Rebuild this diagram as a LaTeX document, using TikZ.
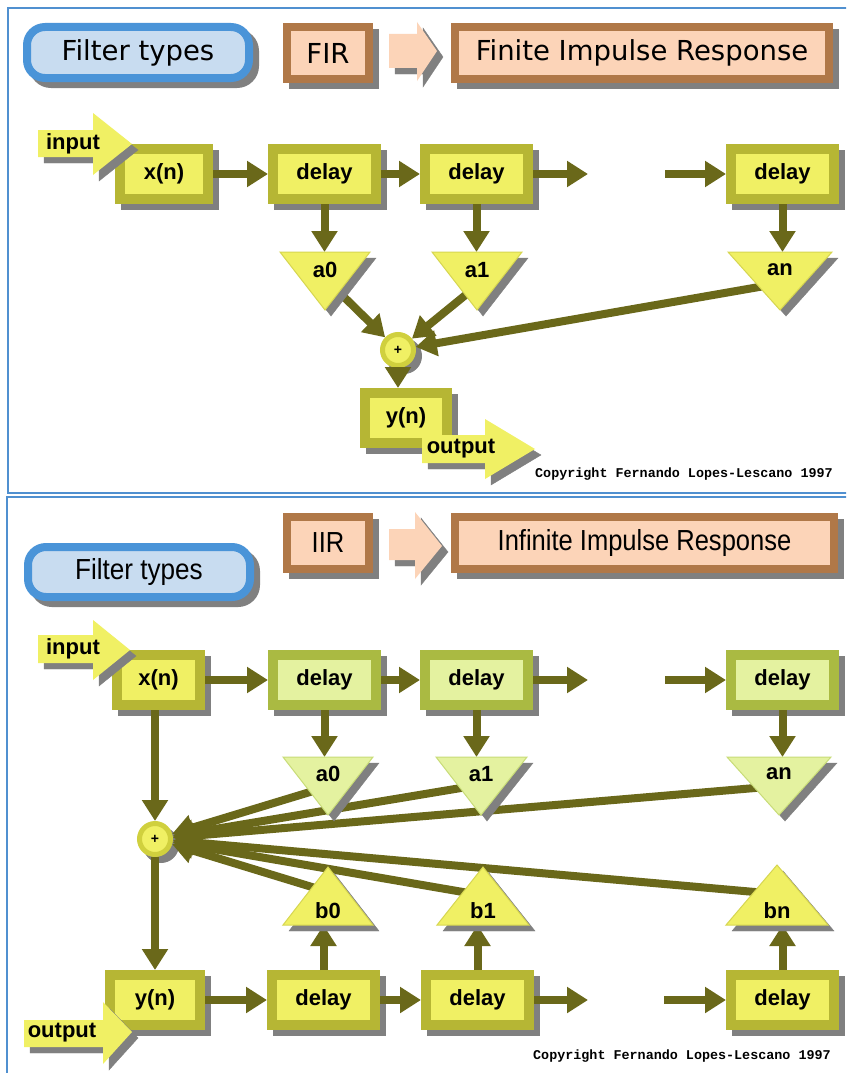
\documentclass[tikz,border=0pt]{standalone}
\usepackage{fontspec}
\setmainfont{Liberation Sans}
\newfontfamily\djv{DejaVu Sans}
\newfontfamily\cmono{Liberation Mono}
\usetikzlibrary{arrows.meta,calc}
\definecolor{conn}{RGB}{106,104,26}
\definecolor{boxbord}{RGB}{182,182,52}
\definecolor{boxfill}{RGB}{240,240,100}
\definecolor{gbord}{RGB}{170,186,66}
\definecolor{gfill}{RGB}{228,242,160}
\definecolor{triedge}{RGB}{214,214,80}
\definecolor{gtriedge}{RGB}{200,220,120}
\definecolor{ringc}{RGB}{208,208,62}
\definecolor{shadowc}{RGB}{128,128,128}
\definecolor{bluebord}{RGB}{74,148,216}
\definecolor{bluefill}{RGB}{200,220,240}
\definecolor{brownbord}{RGB}{176,120,72}
\definecolor{peach}{RGB}{252,212,184}
\definecolor{framec}{RGB}{80,144,208}
\newcommand{\flbl}{\fontsize{22}{24}\selectfont\bfseries}
\newcommand{\ttlA}{\djv\fontsize{27.5}{30}\selectfont}
\newcommand{\ttlB}{\fontsize{29}{32}\selectfont}
\tikzset{
  shad/.style={preaction={fill=shadowc, draw=shadowc, transform canvas={xshift=6pt,yshift=-6pt}}},
  sbox/.style={rectangle, line width=10pt, draw=boxbord, fill=boxfill, shad, font=\flbl, inner sep=0pt},
  gbox/.style={sbox, draw=gbord, fill=gfill},
  sumc/.style={circle, minimum size=31pt, line width=5pt, draw=ringc, fill=boxfill, inner sep=0pt, shad, font=\bfseries\fontsize{14}{14}\selectfont},
  conn/.style={draw=conn, line width=8pt, -{Triangle[width=25pt,length=21pt]}},
  ytri/.style={fill=boxfill, draw=triedge, line width=1pt, shad},
  gtri/.style={fill=gfill, draw=gtriedge, line width=1pt, shad},
  blockarrow/.style={fill=boxfill, draw=none, shad},
  peacharrow/.style={fill=peach, draw=none, shad},
  lbl/.style={font=\flbl, inner sep=0pt},
  bluebox/.style={rectangle, rounded corners=18pt, line width=8pt, draw=bluebord, fill=bluefill, shad, inner sep=0pt},
  brownbox/.style={rectangle, line width=8pt, draw=brownbord, fill=peach, shad, inner sep=0pt},
  framebox/.style={draw=framec, line width=2pt},
  copy/.style={anchor=west, inner sep=0pt, font=\cmono\bfseries\fontsize{13.4}{14}\selectfont}
}
\begin{document}
\begin{tikzpicture}[x=1pt,y=-1pt]
\useasboundingbox (0,0) rectangle (846,1073);
\clip (0,0) rectangle (846,1073);
\fill[white] (0,0) rectangle (846,1073);
% panel frames
\draw[framebox] (8,8) rectangle (900,493);
\draw[framebox] (7,497) rectangle (900,1100);

% ================= TOP PANEL (FIR) =================
\node[bluebox, minimum width=222pt, minimum height=51pt, font=\ttlA] (ft1) at (138,52.5) {Filter types};
\node[brownbox, minimum width=82pt, minimum height=52pt, font=\ttlA] (fir) at (328,53) {FIR};
\path[peacharrow] (389,34) -- (417,34) -- (417,22) -- (437,51) -- (417,81) -- (417,68) -- (389,68) -- cycle;
\node[brownbox, minimum width=374pt, minimum height=52pt, font=\ttlA] (fin) at (642,53) {Finite Impulse Response};

\node[sbox, minimum width=88pt, minimum height=50pt] (xn1) at (164,174) {x(n)};
\node[sbox, minimum width=103pt, minimum height=50pt] (d1a) at (324.5,174) {delay};
\node[sbox, minimum width=103pt, minimum height=50pt] (d2a) at (476.5,174) {delay};
\node[sbox, minimum width=103pt, minimum height=50pt] (d3a) at (782.5,174) {delay};
\node[sbox, minimum width=82pt, minimum height=50pt] (yn1) at (406,418) {y(n)};
\node[sumc] (sum1) at (398,350) {+};

\coordinate (f1) at (588,174);
\coordinate (g1) at (665,174);
\coordinate (a0t1) at (325,252);
\coordinate (a1t1) at (477,252);
\coordinate (ant1) at (780,252);
\coordinate (a0e1) at (342,295);
\coordinate (a1e1) at (468,293);
\coordinate (ane1) at (759,287);

\draw[conn] (xn1.east) -- (d1a.west);
\draw[conn] (d1a.east) -- (d2a.west);
\draw[conn] (d2a.east) -- (f1);
\draw[conn] (g1) -- (d3a.west);
\draw[conn] (d1a.south) -- (d1a.south |- a0t1);
\draw[conn] (d2a.south) -- (d2a.south |- a1t1);
\draw[conn] (d3a.south) -- (d3a.south |- ant1);
\draw[conn] ($(a0e1)!-10pt!(sum1)$) -- (sum1);
\draw[conn] ($(a1e1)!-10pt!(sum1)$) -- (sum1);
\draw[conn] ($(ane1)!-10pt!(sum1)$) -- (sum1);
\draw[conn] (sum1) -- (sum1 |- yn1.north);

\path[ytri] (280,252) -- (370,252) -- (325,310) -- cycle;
\path[ytri] (432,252) -- (522,252) -- (477,310) -- cycle;
\path[ytri] (728,252) -- (832,252) -- (780,310) -- cycle;
\node[lbl] (a0l1) at (325,270) {a0};
\node[lbl] (a1l1) at (477,270) {a1};
\node[lbl] (anl1) at (780,270) {an};

\path[blockarrow] (38,130) -- (93,130) -- (93,113) -- (132,144) -- (93,175) -- (93,157) -- (38,157) -- cycle;
\node[lbl] (in1) at (73,144) {input};
\path[blockarrow] (422,435) -- (485,435) -- (485,419) -- (535,449) -- (485,479) -- (485,463) -- (422,463) -- cycle;
\node[lbl] (out1) at (461,449) {output};

\node[copy] (cp1) at (535,474) {Copyright Fernando Lopes-Lescano 1997};

% ================= BOTTOM PANEL (IIR) =================
\node[bluebox, minimum width=222pt, minimum height=50pt, font=\ttlB] (ft2) at (139,572) {\scalebox{0.9}[1]{Filter types}};
\node[brownbox, minimum width=82pt, minimum height=52pt, font=\ttlB] (iir) at (328,543) {\scalebox{0.88}[1]{IIR}};
\path[peacharrow] (389,529) -- (415,529) -- (415,512) -- (442,546) -- (415,579) -- (415,560) -- (389,560) -- cycle;
\node[brownbox, minimum width=379pt, minimum height=52pt, font=\ttlB] (inf) at (644.5,543) {\scalebox{0.88}[1]{Infinite Impulse Response}};

\node[sbox, minimum width=83pt, minimum height=50pt] (xn2) at (158.5,680) {x(n)};
\node[gbox, minimum width=103pt, minimum height=50pt] (d1b) at (324.5,680) {delay};
\node[gbox, minimum width=103pt, minimum height=50pt] (d2b) at (476.5,680) {delay};
\node[gbox, minimum width=103pt, minimum height=50pt] (d3b) at (782.5,680) {delay};
\node[sumc] (sum2) at (155,839) {+};
\node[sbox, minimum width=90pt, minimum height=50pt] (yn2) at (155,1000) {y(n)};
\node[sbox, minimum width=103pt, minimum height=50pt] (e1) at (323.5,1000) {delay};
\node[sbox, minimum width=103pt, minimum height=50pt] (e2) at (477.5,1000) {delay};
\node[sbox, minimum width=103pt, minimum height=50pt] (e3) at (782.5,1000) {delay};

\coordinate (f2) at (588,680);
\coordinate (g2) at (665,680);
\coordinate (f3) at (588,1000);
\coordinate (g3) at (664,1000);
\coordinate (a0t2) at (328,757);
\coordinate (a1t2) at (481,757);
\coordinate (ant2) at (779,757);
\coordinate (b0b) at (328,925);
\coordinate (b1b) at (483,925);
\coordinate (bnb) at (777,925);
\coordinate (a0e2) at (310,792);
\coordinate (a1e2) at (461,788);
\coordinate (ane2) at (755,788);
\coordinate (b0e) at (312,887);
\coordinate (b1e) at (463,892);
\coordinate (bne) at (755,892);

\draw[conn] (xn2.east) -- (d1b.west);
\draw[conn] (d1b.east) -- (d2b.west);
\draw[conn] (d2b.east) -- (f2);
\draw[conn] (g2) -- (d3b.west);
\draw[conn] (d1b.south) -- (d1b.south |- a0t2);
\draw[conn] (d2b.south) -- (d2b.south |- a1t2);
\draw[conn] (d3b.south) -- (d3b.south |- ant2);
\draw[conn] (xn2.south -| sum2) -- (sum2);
\draw[conn] (sum2) -- (sum2 |- yn2.north);
\draw[conn] ($(a0e2)!-10pt!(sum2)$) -- (sum2);
\draw[conn] ($(a1e2)!-10pt!(sum2)$) -- (sum2);
\draw[conn] ($(ane2)!-10pt!(sum2)$) -- (sum2);
\draw[conn] ($(b0e)!-10pt!(sum2)$) -- (sum2);
\draw[conn] ($(b1e)!-10pt!(sum2)$) -- (sum2);
\draw[conn] ($(bne)!-10pt!(sum2)$) -- (sum2);
\draw[conn] (yn2.east) -- (e1.west);
\draw[conn] (e1.east) -- (e2.west);
\draw[conn] (e2.east) -- (f3);
\draw[conn] (g3) -- (e3.west);
\draw[conn] (e1.north) -- (e1.north |- b0b);
\draw[conn] (e2.north) -- (e2.north |- b1b);
\draw[conn] (e3.north) -- (e3.north |- bnb);

\path[gtri] (283,757) -- (373,757) -- (328,815) -- cycle;
\path[gtri] (436,757) -- (527,757) -- (481,815) -- cycle;
\path[gtri] (727,757) -- (831,757) -- (779,815) -- cycle;
\path[ytri] (283,925) -- (373,925) -- (328,867) -- cycle;
\path[ytri] (437,925) -- (529,925) -- (483,867) -- cycle;
\path[ytri] (726,925) -- (828,925) -- (777,865) -- cycle;
\node[lbl] (a0l2) at (328,774) {a0};
\node[lbl] (a1l2) at (481,774) {a1};
\node[lbl] (anl2) at (779,774) {an};
\node[lbl] (b0l) at (328,911) {b0};
\node[lbl] (b1l) at (483,911) {b1};
\node[lbl] (bnl) at (777,911) {bn};

\path[blockarrow] (38,635) -- (93,635) -- (93,620) -- (130,650) -- (93,680) -- (93,663) -- (38,663) -- cycle;
\node[lbl] (in2) at (73,649) {input};
\path[blockarrow] (24,1020) -- (103,1020) -- (103,1002) -- (132,1032) -- (103,1064) -- (103,1047) -- (24,1047) -- cycle;
\node[lbl] (out2) at (62,1033) {output};

\node[copy] (cp2) at (533,1056) {Copyright Fernando Lopes-Lescano 1997};
\end{tikzpicture}
\end{document}
